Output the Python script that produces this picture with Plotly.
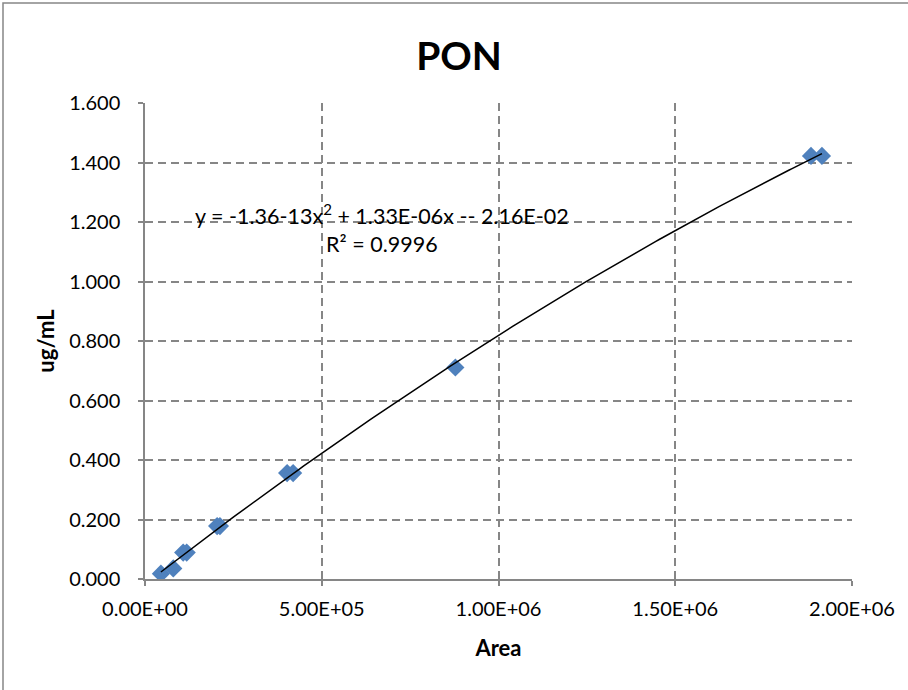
import numpy as np
import plotly.graph_objects as go

# Calibration standards: peak area vs. concentration
area = [45000, 80000, 108000, 118000, 204000, 212000, 402000, 419000, 878000, 1884000, 1915000]
conc = [0.0178, 0.0356, 0.0889, 0.0889, 0.178, 0.178, 0.356, 0.356, 0.711, 1.422, 1.422]

x_ticks = [0, 500000, 1000000, 1500000, 2000000]
x_tick_labels = ["0.00E+00", "5.00E+05", "1.00E+06", "1.50E+06", "2.00E+06"]
y_ticks = [0, 0.2, 0.4, 0.6, 0.8, 1.0, 1.2, 1.4, 1.6]
y_tick_labels = ["0.000", "0.200", "0.400", "0.600", "0.800", "1.000", "1.200", "1.400", "1.600"]

equation_text = "y = -1.36-13x<sup>2</sup> + 1.33E-06x -- 2.16E-02<br>R² = 0.9996"

# Second-order polynomial trendline through the standards
coef = np.polyfit(area, conc, 2)
xfit = np.linspace(min(area), max(area), 200)
yfit = np.polyval(coef, xfit)

FONT = "Lato, 'Noto Sans', sans-serif"
GRAY = "#868686"

fig = go.Figure()
fig.add_trace(go.Scatter(
    x=area, y=conc, mode="markers",
    marker=dict(symbol="diamond", size=14, color="#4F81BD", line=dict(width=0)),
    showlegend=False, hoverinfo="x+y",
))
fig.add_trace(go.Scatter(
    x=xfit, y=yfit, mode="lines",
    line=dict(color="black", width=1.5),
    showlegend=False, hoverinfo="skip",
))

fig.update_layout(
    width=908, height=690,
    margin=dict(l=145, r=56, t=103, b=111),
    paper_bgcolor="white", plot_bgcolor="white",
    font=dict(family=FONT, size=20, color="black"),
    title=dict(text="<b>PON</b>", x=459 / 908, xref="container", xanchor="center",
               y=1 - 56 / 690, yref="container", yanchor="middle",
               font=dict(size=39, family=FONT)),
    xaxis=dict(
        range=[0, 2000000], tickvals=x_ticks, ticktext=x_tick_labels,
        showgrid=True, gridcolor=GRAY, griddash="8px,5px", gridwidth=1.5,
        showline=True, linecolor=GRAY, linewidth=1.5,
        ticks="outside", ticklen=5, tickcolor=GRAY, tickwidth=1.5,
        tickfont=dict(size=20), zeroline=False, ticklabelstandoff=6,
        title=dict(text="<b>Area</b>", font=dict(size=22), standoff=22),
    ),
    yaxis=dict(
        range=[0, 1.6], tickvals=y_ticks, ticktext=y_tick_labels,
        showgrid=True, gridcolor=GRAY, griddash="8px,5px", gridwidth=1.5,
        showline=True, linecolor=GRAY, linewidth=1.5,
        ticks="outside", ticklen=5, tickcolor=GRAY, tickwidth=1.5,
        tickfont=dict(size=20), zeroline=False, ticklabelstandoff=14,
        title=dict(text="<b>ug/mL</b>", font=dict(size=22), standoff=8),
    ),
    annotations=[dict(
        text=equation_text, xref="paper", yref="paper",
        x=(382 - 145) / 707, y=(579 - 229) / 476,
        xanchor="center", yanchor="middle", showarrow=False,
        align="center", font=dict(size=21.5, family=FONT),
    )],
    shapes=[dict(
        type="rect", xref="paper", yref="paper",
        x0=(3 - 145) / 707, x1=(912 - 145) / 707,
        y0=(579 - 694) / 476, y1=(579 - 3) / 476,
        line=dict(color=GRAY, width=1.5), layer="below",
    )],
)

fig.write_html("out.html")
